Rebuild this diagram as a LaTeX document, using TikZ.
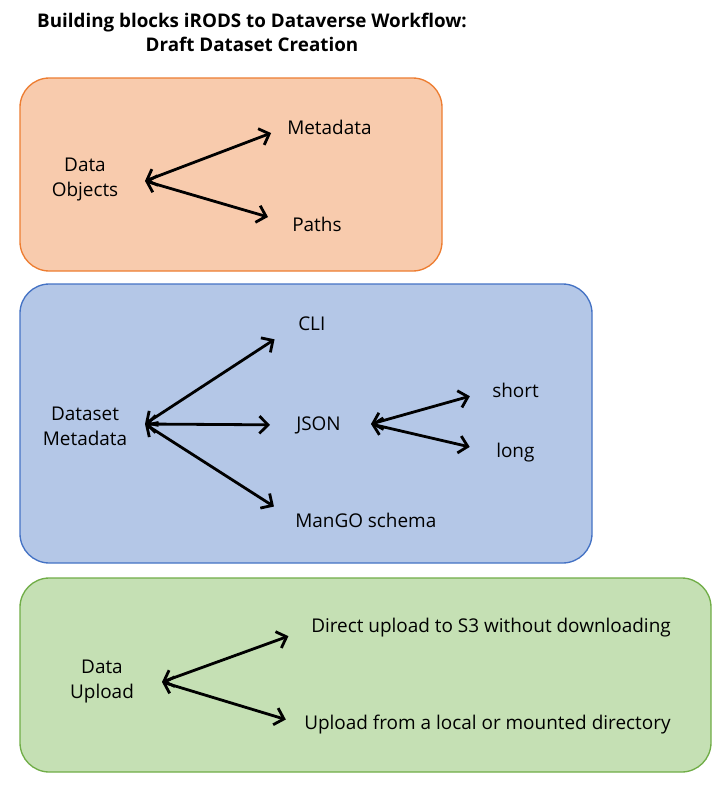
\documentclass[tikz,border=0pt]{standalone}
\usepackage{fontspec}
\setmainfont{Open Sans}
\usetikzlibrary{arrows.meta}
\definecolor{objfill}{HTML}{F8CBAD}
\definecolor{objline}{HTML}{ED7D31}
\definecolor{metafill}{HTML}{B4C7E7}
\definecolor{metaline}{HTML}{4472C4}
\definecolor{upfill}{HTML}{C5E0B4}
\definecolor{upline}{HTML}{70AD47}
\tikzset{
    group/.style = {draw, line width=1pt, rounded corners=22pt},
    lbl/.style = {inner sep=0pt, align=center,
        font=\fontsize{14.2}{18.75}\selectfont},
    leaf/.style = {lbl, anchor=west},
    arrow/.style = {draw, line width=2.1pt,
        {Straight Barb[length=6.5pt,width=13pt]}-{Straight Barb[length=6.5pt,width=13pt]}}
}
\begin{document}
\begin{tikzpicture}[x=0.75pt, y=-0.75pt]
    \useasboundingbox (0,0) rectangle (728,794);
    % title
    \node [lbl, font=\bfseries\fontsize{14.1}{18}\selectfont] (title) at (252,32)
        {Building blocks iRODS to Dataverse Workflow:\\Draft Dataset Creation};
    % groups
    \draw [group, fill=objfill, draw=objline] (20,78) rectangle (442,271);
    \draw [group, fill=metafill, draw=metaline] (20,284) rectangle (592,563);
    \draw [group, fill=upfill, draw=upline] (20,578) rectangle (711,772);
    % data objects
    \node [lbl] (dobj) at (85,180) {Data\\Objects};
    \coordinate (dobjhub) at (145,181);
    \node [leaf] (meta) at (287,127) {Metadata};
    \node [leaf] (paths) at (292,224) {Paths};
    \draw [arrow, shorten >=12.75pt] (dobjhub) -- (meta.west);
    \draw [arrow, shorten >=18.75pt] (dobjhub) -- (paths.west);
    % dataset metadata
    \node [lbl] (dmeta) at (85,426) {Dataset\\Metadata};
    \coordinate (dmetahub) at (145,424);
    \node [leaf] (cli) at (298,324) {CLI};
    \node [leaf] (json) at (296,425) {JSON};
    \node [leaf] (mango) at (295,520) {ManGO schema};
    \node [leaf] (short) at (492,390) {short};
    \node [leaf] (long) at (496,453) {long};
    \coordinate (jsonhub) at (371,424);
    \draw [arrow, shorten >=21pt] (dmetahub) -- (cli.west);
    \draw [arrow, shorten >=19.5pt] (dmetahub) -- (json.west);
    \draw [arrow, shorten >=18.75pt] (dmetahub) -- (mango.west);
    \draw [arrow, shorten >=17.25pt] (jsonhub) -- (short.west);
    \draw [arrow, shorten >=20.25pt] (jsonhub) -- (long.west);
    % data upload
    \node [lbl] (dup) at (102,682) {Data\\Upload};
    \coordinate (duphub) at (162,682);
    \node [leaf] (direct) at (311,628) {Direct upload to S3 without downloading};
    \node [leaf] (local) at (304,725) {Upload from a local or mounted directory};
    \draw [arrow, shorten >=18pt] (duphub) -- (direct.west);
    \draw [arrow, shorten >=14.25pt] (duphub) -- (local.west);
\end{tikzpicture}
\end{document}
